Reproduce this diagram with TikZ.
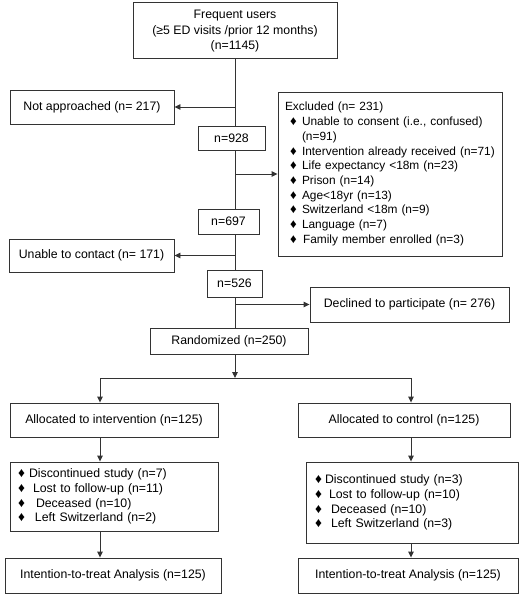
\documentclass[tikz,border=0pt]{standalone}
\usepackage{fontspec}
\setmainfont{Liberation Sans}
\usepackage{graphicx}
\usepackage{tikz}
\usetikzlibrary{calc}
\usetikzlibrary{arrows.meta}

\newcommand{\dmd}{\scalebox{1.1}{♦}}
\newcommand{\itm}[1]{\makebox[#1][l]{\dmd}}

\begin{document}
\begin{tikzpicture}[x=1pt,y=-1pt,
    box/.style={draw=black!80, line width=0.9pt, inner sep=0pt, align=center},
    listbox/.style={draw=black!80, line width=0.9pt, inner ysep=0pt, align=left},
    link/.style={draw=black!80, line width=0.9pt},
    arr/.style={link, -{Triangle[length=6pt,width=5.5pt]}}]
                        {\fontsize{12.3}{14.7}\selectfont
                        \useasboundingbox (0,0) rectangle (520,594);

                        % Drawing box frequent users
                        \node [box, minimum width=204, minimum height=56, text depth=0pt] (top) at (235,30)
                          {Frequent users\\[0.8pt] (≥5 ED visits /prior 12 months)\\[0.8pt] (n=1145)};

                        % Drawing boxes along the spine
                        \node [box, minimum width=164, minimum height=34] (notapp) at (92,107) {Not approached (n= 217)};
                        \node [box, minimum width=67, minimum height=24] (n928) at (231.5,138) {n=928};
                        \node [box, minimum width=61, minimum height=25] (n697) at (228.5,221.5) {n=697};
                        \node [box, minimum width=165, minimum height=33] (unable) at (91.5,255.5) {Unable to contact (n= 171)};
                        \node [box, minimum width=55, minimum height=27] (n526) at (234.5,283.5) {n=526};
                        \node [box, minimum width=199, minimum height=35] (declined) at (409.5,304.5) {Declined to participate (n= 276)};
                        \node [box, minimum width=158, minimum height=26] (rand) at (229,341) {Randomized (n=250)};

                        % Drawing box excluded
                        \node [listbox, inner xsep=4pt, text width=216pt, minimum height=164,
                               font=\fontsize{11.9}{14.7}\selectfont] (excl) at (390,174)
                          {\hspace*{3pt}Excluded (n= 231)\\
                           \hspace*{8pt}\itm{12pt}Unable to consent (i.e., confused)\\
                           \hspace*{20pt}(n=91)\\
                           \hspace*{8pt}\itm{12pt}Intervention already received (n=71)\\
                           \hspace*{8pt}\itm{12pt}Life expectancy <18m (n=23)\\
                           \hspace*{8pt}\itm{12pt}Prison (n=14)\\
                           \hspace*{8pt}\itm{12pt}Age<18yr (n=13)\\
                           \hspace*{8pt}\itm{12pt}Switzerland <18m (n=9)\\
                           \hspace*{8pt}\itm{12pt}Language (n=7)\\
                           \hspace*{8pt}\itm{13pt}Family member enrolled (n=3)};

                        % Drawing boxes of the two arms
                        \node [box, minimum width=208, minimum height=34] (allocint) at (114,420) {Allocated to intervention (n=125)};
                        \node [box, minimum width=212, minimum height=34] (allocctrl) at (404,420) {Allocated to control (n=125)};

                        \node [listbox, inner xsep=8pt, text width=192pt, minimum height=69] (listint) at (114,496.5)
                          {\itm{11pt}Discontinued study (n=7)\\
                           \itm{15pt}Lost to follow-up (n=11)\\
                           \itm{18pt}Deceased (n=10)\\
                           \itm{17pt}Left Switzerland (n=2)};
                        \node [listbox, inner xsep=9pt, text width=194pt, minimum height=81] (listctrl) at (412,502.5)
                          {\itm{10pt}Discontinued study (n=3)\\
                           \itm{14pt}Lost to follow-up (n=10)\\
                           \itm{16pt}Deceased (n=10)\\
                           \itm{16pt}Left Switzerland (n=3)};

                        \node [box, minimum width=216, minimum height=35] (ittint) at (113,575.5) {Intention-to-treat Analysis (n=125)};
                        \node [box, minimum width=220, minimum height=35] (ittctrl) at (408,575.5) {Intention-to-treat Analysis (n=125)};

                        % Drawing the spine
                        \draw [link] (top.south) -- (top.south |- n928.north);%
                        \draw [link] (top.south |- n928.south) -- (top.south |- n697.north);%
                        \draw [link] (top.south |- n697.south) -- (top.south |- n526.north);%
                        \draw [link] (top.south |- n526.south) -- (top.south |- rand.north);%

                        % Drawing arrows off the spine
                        \draw [arr] (top.south |- notapp.east) -- (notapp.east);%
                        \draw [arr] (top.south |- excl.west) -- (excl.west);%
                        \draw [arr] (top.south |- unable.east) -- (unable.east);%
                        \draw [arr] (top.south |- declined.west) -- (declined.west);%

                        % Drawing the split
                        \coordinate (bl) at (100,378);
                        \coordinate (br) at (411,378);
                        \draw [arr] (top.south |- rand.south) -- (top.south |- bl);%
                        \draw [link] (bl) -- (br);%
                        \draw [arr] (bl) -- (bl |- allocint.north);%
                        \draw [arr] (br) -- (br |- allocctrl.north);%
                        \draw [arr] (bl |- allocint.south) -- (bl |- listint.north);%
                        \draw [arr] (br |- allocctrl.south) -- (br |- listctrl.north);%
                        \draw [arr] (bl |- listint.south) -- (bl |- ittint.north);%
                        \draw [arr] (br |- listctrl.south) -- (br |- ittctrl.north);%
                        }
\end{tikzpicture}
\end{document}
